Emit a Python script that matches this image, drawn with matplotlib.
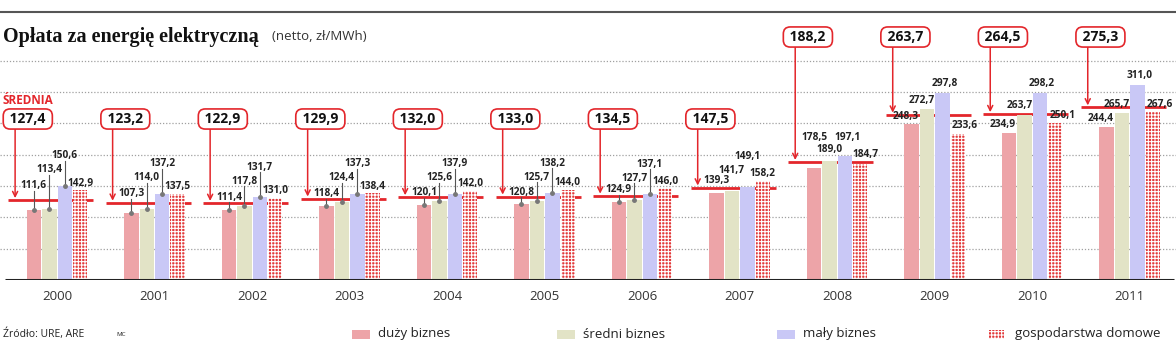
import matplotlib.pyplot as plt
from matplotlib.patches import Rectangle
import numpy as np

plt.rcParams['hatch.linewidth'] = 0.8

# data
lata = ['2000', '2001', '2002', '2003', '2004', '2005', '2006', '2007', '2008', '2009', '2010', '2011']
srednia = [127.4, 123.2, 122.9, 129.9, 132.0, 133.0, 134.5, 147.5, 188.2, 263.7, 264.5, 275.3]
duzy = [111.6, 107.3, 111.4, 118.4, 120.1, 120.8, 124.9, 139.3, 178.5, 248.3, 234.9, 244.4]
sredni = [113.4, 114.0, 117.8, 124.4, 125.6, 125.7, 127.7, 141.7, 189.0, 272.7, 263.7, 265.7]
maly = [150.6, 137.2, 131.7, 137.3, 137.9, 138.2, 137.1, 149.1, 197.1, 297.8, 298.2, 311.0]
domowe = [142.9, 137.5, 131.0, 138.4, 142.0, 144.0, 146.0, 158.2, 184.7, 233.6, 250.1, 267.6]
serie = ['duży biznes', 'średni biznes', 'mały biznes', 'gospodarstwa domowe']

RED = '#e3262b'
kolory = ['#eda4a8', '#e2e3c6', '#c9c8f6', '#e2383a']

W, H = 1176, 342
fig = plt.figure(figsize=(W / 100, H / 100), dpi=100)
base_px = 280
px_per_unit = 0.627
ax = fig.add_axes([0, 1 - base_px / H, 1, base_px / H])
ax.set_ylim(0, base_px / px_per_unit)
ax.set_xlim(-0.585, 11.475)
ax.axis('off')

def px(p):
    # pixel distance -> data units
    return p / px_per_unit

x = np.arange(len(lata))
step = 0.158
bw = 0.148

# gridlines
for g in range(50, 400, 50):
    ax.axhline(g, color='#a0a0a0', lw=0.9, ls=(0, (1, 1.5)), zorder=0)
ax.plot([-0.53, 11.45], [0, 0], color='#222222', lw=2.2, zorder=4, solid_capstyle='butt')

# average lines behind bars
for i, a in enumerate(srednia):
    ax.plot([x[i] - 0.5, x[i] + 0.37], [a, a], color=RED, lw=2.0, zorder=1, solid_capstyle='butt')

wartosci = [duzy, sredni, maly, domowe]
for k, vals in enumerate(wartosci):
    pos = x + (k - 1.5) * step
    if k == 3:
        ax.bar(pos, vals, bw, color=kolory[k], edgecolor='white', hatch='+++++', lw=0, zorder=2)
    else:
        ax.bar(pos, vals, bw, color=kolory[k], lw=0, zorder=2)

def fmt(v):
    return f'{v:.1f}'.replace('.', ',')

lab_kw = dict(ha='center', va='center', fontsize=7.3, fontweight='bold',
              color='#222222', family='Open Sans', zorder=6)

# value labels
for i in range(len(lata)):
    h = [vals[i] * px_per_unit for vals in wartosci]
    xs = [x[i] + (k - 1.5) * step for k in range(4)]
    if i <= 7:
        # staggered labels with leader lines
        y3 = h[2] + 30
        y2 = max(y3 - 14, h[1] + 12)
        y1 = max(y2 - 16, h[0] + 12)
        y4 = h[3] + 7
        ys = [y1, y2, y3, y4]
        for k in range(4):
            if k < 3 and i < 7:
                ax.plot([xs[k], xs[k]], [px(h[k]), px(ys[k] - 5)], color='#555555', lw=0.8, zorder=5)
                ax.plot(xs[k], px(h[k]), 'o', ms=2.5, color='#777777', zorder=5)
            ax.text(xs[k], px(ys[k]), fmt(wartosci[k][i]), **lab_kw)
    else:
        off = [31, 12, 19, 10] if i == 8 else [8, 9, 10, 8]
        dx = [0, 0, 3, 5] if i == 8 else [-6, -5, 2, 7]
        for k in range(4):
            ax.text(xs[k] + dx[k] / 97.5, px(h[k] + off[k]), fmt(wartosci[k][i]), **lab_kw)

# average boxes with arrows
for i, a in enumerate(srednia):
    by = px(280 - 119) if i < 8 else px(280 - 37)
    ax.text(x[i] - 0.3, by, ' ' + fmt(a) + ' ', ha='center', va='center',
            fontsize=10, fontweight='bold', color='#111111', family='Open Sans', zorder=7,
            bbox=dict(boxstyle='round,pad=0.22,rounding_size=0.5', fc='white', ec=RED, lw=1.2))
    ax.annotate('', xy=(x[i] - 0.43, a + px(2)), xytext=(x[i] - 0.43, by - px(9)),
                arrowprops=dict(arrowstyle='->', color=RED, lw=1.1, shrinkA=0, shrinkB=0,
                                mutation_scale=9), zorder=6)

# year labels
for i, lab in enumerate(lata):
    ax.text(x[i], -px(17), lab, ha='center', va='center', fontsize=9.5,
            color='#333333', family='Open Sans', clip_on=False)

# header
fig.add_artist(plt.Line2D([0, 1], [1 - 12 / H, 1 - 12 / H], color='#555555', lw=1.5))
fig.text(3 / W, 1 - 37 / H, 'Opłata za energię elektryczną', fontsize=14.5, fontweight='bold',
         family='Liberation Serif', color='#111111', va='center')
fig.text(272 / W, 1 - 37 / H, '(netto, zł/MWh)', fontsize=9.5, family='Open Sans',
         color='#333333', va='center')
fig.text(3 / W, 1 - 101 / H, 'ŚREDNIA', fontsize=8.5, fontweight='bold', family='Open Sans',
         color=RED, va='center')

# footer
fig.text(3 / W, 1 - 334 / H, 'Źródło: URE, ARE', fontsize=7.5, family='Open Sans',
         color='#222222', va='center')
fig.text(116 / W, 1 - 334 / H, 'MC', fontsize=4.5, family='Open Sans', color='#222222', va='center')

leg_x = [352, 557, 777, 989]
for k, name in enumerate(serie):
    if k == 3:
        r = Rectangle((leg_x[k] / W, 1 - 339 / H), 15 / W, 9 / H, transform=fig.transFigure,
                      fc=kolory[k], ec='white', hatch='+++++', lw=0)
    else:
        r = Rectangle((leg_x[k] / W, 1 - 339 / H), 18 / W, 9 / H, transform=fig.transFigure,
                      fc=kolory[k], lw=0)
    fig.add_artist(r)
    fig.text((leg_x[k] + 26) / W, 1 - 334 / H, name, fontsize=9.5, family='Open Sans',
             color='#222222', va='center')

fig.savefig('out.png', dpi=100)
